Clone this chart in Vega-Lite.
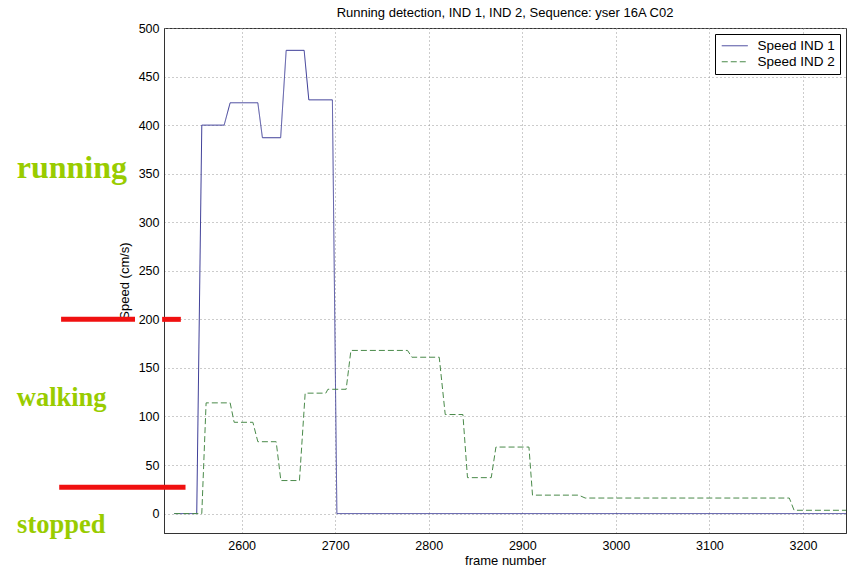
{
  "$schema": "https://vega.github.io/schema/vega-lite/v6.json",
  "width": 682,
  "height": 505,
  "autosize": {"type": "none"},
  "padding": {"left": 164, "top": 28, "right": 3, "bottom": 37},
  "background": "white",
  "title": {"text": "Running detection, IND 1, IND 2, Sequence: yser 16A C02", "fontSize": 13, "font": "Liberation Sans", "fontWeight": "normal", "color": "#000", "offset": 2, "anchor": "middle"},
  "config": {
    "font": "Liberation Sans",
    "view": {"stroke": "#333", "strokeWidth": 1},
    "axis": {"gridColor": "#999", "gridDash": [1, 3], "gridOpacity": 1, "gridWidth": 1, "domainColor": "#333", "ticks": false, "labelColor": "#000", "labelFontSize": 12.5, "titleColor": "#000", "titleFontSize": 13, "titleFontWeight": "normal", "labelFont": "Liberation Sans", "titleFont": "Liberation Sans"},
    "legend": {"orient": "top-right", "offset": 6, "symbolType": "M-1,0H4.2", "symbolSize": 100, "symbolStrokeWidth": 1, "labelOffset": 24, "labelFontSize": 13.5, "labelColor": "#000", "labelFont": "Liberation Sans", "padding": 5, "rowPadding": 1, "strokeColor": "#000", "fillColor": "#fff"}
  },
  "datasets": {
    "speeds": [
      {"frame": 2528, "speed": 0, "series": "Speed IND 1"},
      {"frame": 2552, "speed": 0, "series": "Speed IND 1"},
      {"frame": 2557.4, "speed": 400, "series": "Speed IND 1"},
      {"frame": 2581.3, "speed": 400, "series": "Speed IND 1"},
      {"frame": 2587.7, "speed": 423, "series": "Speed IND 1"},
      {"frame": 2617.3, "speed": 423, "series": "Speed IND 1"},
      {"frame": 2622.2, "speed": 387, "series": "Speed IND 1"},
      {"frame": 2641.7, "speed": 387, "series": "Speed IND 1"},
      {"frame": 2647.6, "speed": 477, "series": "Speed IND 1"},
      {"frame": 2666.8, "speed": 477, "series": "Speed IND 1"},
      {"frame": 2671.8, "speed": 426, "series": "Speed IND 1"},
      {"frame": 2697, "speed": 426, "series": "Speed IND 1"},
      {"frame": 2701.8, "speed": 0, "series": "Speed IND 1"},
      {"frame": 3246, "speed": 0, "series": "Speed IND 1"},
      {"frame": 2528, "speed": 0, "series": "Speed IND 2"},
      {"frame": 2557.4, "speed": 0, "series": "Speed IND 2"},
      {"frame": 2562, "speed": 114, "series": "Speed IND 2"},
      {"frame": 2587.7, "speed": 114, "series": "Speed IND 2"},
      {"frame": 2592, "speed": 94, "series": "Speed IND 2"},
      {"frame": 2612, "speed": 94, "series": "Speed IND 2"},
      {"frame": 2617.3, "speed": 74, "series": "Speed IND 2"},
      {"frame": 2636.9, "speed": 74, "series": "Speed IND 2"},
      {"frame": 2641.9, "speed": 34, "series": "Speed IND 2"},
      {"frame": 2661.8, "speed": 34, "series": "Speed IND 2"},
      {"frame": 2667.9, "speed": 124, "series": "Speed IND 2"},
      {"frame": 2690, "speed": 124, "series": "Speed IND 2"},
      {"frame": 2692.2, "speed": 128, "series": "Speed IND 2"},
      {"frame": 2711.7, "speed": 128, "series": "Speed IND 2"},
      {"frame": 2716.8, "speed": 168, "series": "Speed IND 2"},
      {"frame": 2777.3, "speed": 168, "series": "Speed IND 2"},
      {"frame": 2782, "speed": 161, "series": "Speed IND 2"},
      {"frame": 2811.2, "speed": 161, "series": "Speed IND 2"},
      {"frame": 2817.6, "speed": 102, "series": "Speed IND 2"},
      {"frame": 2836.5, "speed": 102, "series": "Speed IND 2"},
      {"frame": 2841.4, "speed": 37, "series": "Speed IND 2"},
      {"frame": 2866.8, "speed": 37, "series": "Speed IND 2"},
      {"frame": 2871.8, "speed": 68.5, "series": "Speed IND 2"},
      {"frame": 2907.1, "speed": 68.5, "series": "Speed IND 2"},
      {"frame": 2910.9, "speed": 19, "series": "Speed IND 2"},
      {"frame": 2960.1, "speed": 19, "series": "Speed IND 2"},
      {"frame": 2967.3, "speed": 16, "series": "Speed IND 2"},
      {"frame": 3185.4, "speed": 16, "series": "Speed IND 2"},
      {"frame": 3190.5, "speed": 3.4, "series": "Speed IND 2"},
      {"frame": 3246, "speed": 3.4, "series": "Speed IND 2"}
    ]
  },
  "encoding": {
    "x": {"field": "frame", "type": "quantitative", "scale": {"domain": [2517, 3246], "nice": false, "zero": false}, "axis": {"title": "frame number", "values": [2600, 2700, 2800, 2900, 3000, 3100, 3200], "labelPadding": 6, "titlePadding": 3, "format": "d"}},
    "y": {"field": "speed", "type": "quantitative", "scale": {"domain": [-20, 500], "nice": false, "zero": false}, "axis": {"title": "Speed (cm/s)", "values": [0, 50, 100, 150, 200, 250, 300, 350, 400, 450, 500], "labelPadding": 5, "titlePadding": 7, "format": "d"}}
  },
  "layer": [
    {
      "data": {"name": "speeds"},
      "mark": {"type": "line", "strokeWidth": 1, "clip": true, "interpolate": "linear"},
      "encoding": {
        "color": {"field": "series", "type": "nominal", "scale": {"domain": ["Speed IND 1", "Speed IND 2"], "range": ["#3b3b96", "#4a8a4a"]}, "legend": {"title": null}},
        "strokeDash": {"field": "series", "type": "nominal", "scale": {"domain": ["Speed IND 1", "Speed IND 2"], "range": [[1, 0], [6, 3]]}, "legend": {"title": null}},
        "order": {"field": "frame", "type": "quantitative"}
      }
    },
    {
      "data": {"values": [
        {"frame": 2407, "frame2": 2486, "speed": 200},
        {"frame": 2515, "frame2": 2535, "speed": 200},
        {"frame": 2405, "frame2": 2540, "speed": 27}
      ]},
      "mark": {"type": "rule", "color": "#f01010", "strokeWidth": 5, "clip": false},
      "encoding": {"x2": {"field": "frame2"}}
    },
    {
      "data": {"values": [{"frame": 2359.6, "speed": 346, "label": "running"}]},
      "mark": {"type": "text", "font": "Liberation Serif", "fontWeight": "bold", "fontSize": 32, "color": "#99cc00", "align": "left", "baseline": "alphabetic", "clip": false},
      "encoding": {"text": {"field": "label"}}
    },
    {
      "data": {"values": [
        {"frame": 2359.6, "speed": 111, "label": "walking"},
        {"frame": 2360, "speed": -19.8, "label": "stopped"}
      ]},
      "mark": {"type": "text", "font": "Liberation Serif", "fontWeight": "bold", "fontSize": 26.5, "color": "#99cc00", "align": "left", "baseline": "alphabetic", "clip": false},
      "encoding": {"text": {"field": "label"}}
    }
  ]
}
